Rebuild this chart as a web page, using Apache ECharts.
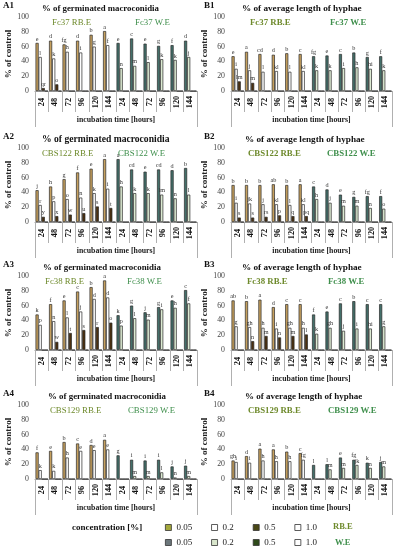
<!DOCTYPE html>
<html><head><meta charset="utf-8">
<script src="https://cdn.jsdelivr.net/npm/echarts@6/dist/echarts.min.js"></script>
<style>html,body{margin:0;padding:0;background:#fff}#c{width:397px;height:550px}</style>
</head><body><div id="c"></div>
<script>
const hours = ['24','48','72','96','120','144','24','48','72','96','120','144'];
const concentrations = ['0.05','0.2','0.5','1.0'];
const ZERO12 = [0,0,0,0,0,0,0,0,0,0,0,0];
const NOL = ['','','','','','','','','','','',''];

// A1 Fc37 germinated macroconidia
const A1_c005 = [65,68,63,68,76,81,65,71,64,61,62,68];
const A1_c02  = [46,44,53,52,60,62,31,34,39,43,42,46];
const A1_c05  = [4,9,0,0,0,0,0,0,0,0,0,0];
const A1_l005 = ['e','d','fg','d','b','a','e','c','e','g','f','d'];
const A1_l02  = ['l','k','h','i','g','f','n','m','l','k','k','j'];
const A1_l05  = ['qr','o','','','','','','','','','',''];
// B1 Fc37 hyphae
const B1_c005 = [47,53,50,49,51,50,47,48,50,52,46,47];
const B1_c02  = [30,28,26,27,26,27,28,28,31,32,30,28];
const B1_c05  = [13,11,0,0,0,0,0,0,0,0,0,0];
const B1_l005 = ['e','a','cd','d','b','c','fg','e','c','b','g','f'];
const B1_l02  = ['i','j','l','kl','l','kl','k','k','i','h','hi','k'];
const B1_l05  = ['lm','m','','','','','','','','','',''];
// A2 CBS122 germinated
const A2_c005 = [43,48,58,67,72,85,85,71,68,71,70,73];
const A2_c02  = [23,28,31,33,39,45,48,39,39,37,32,37];
const A2_c05  = [7,8,10,12,21,19,0,0,0,0,0,0];
const A2_l005 = ['j','h','g','f','e','a','a','cd','e','cd','d','b'];
const A2_l02  = ['r','p','o','n','k','i','h','k','k','lm','n','l'];
const A2_l05  = ['y','x','w','u','s','t','','','','','',''];
// B2 CBS122 hyphae
const B2_c005 = [50,50,50,51,50,51,48,44,37,34,35,35];
const B2_c02  = [26,25,24,24,23,24,31,26,22,22,19,18];
const B2_c05  = [6,6,7,9,8,8,0,0,0,0,0,0];
const B2_l005 = ['b','b','b','ab','b','a','c','d','e','g','fg','f'];
const B2_l02  = ['i','jk','j','kl','l','kl','h','j','m','m','n','o'];
const B2_l05  = ['s','s','rs','p','q','pq','','','','','',''];
// A3 Fc38 germinated
const A3_c005 = [48,62,67,79,85,94,47,60,51,58,67,81];
const A3_c02  = [34,39,44,52,69,71,33,43,41,55,57,63];
const A3_c05  = [0,11,23,27,31,37,0,0,0,0,0,0];
const A3_l005 = ['k','f','e','c','b','a','k','g','j','g','e','c'];
const A3_l02  = ['p','n','l','j','d','d','p','l','m','i','h','f'];
const A3_l05  = ['','w','t','s','r','o','','','','','',''];
// B3 Fc38 hyphae
const B3_c005 = [67,66,68,58,62,62,48,52,63,66,62,62];
const B3_c02  = [32,31,30,29,30,30,22,30,26,29,29,32];
const B3_c05  = [0,12,19,17,19,21,0,0,0,0,0,0];
const B3_l005 = ['ab','b','a','d','c','c','f','e','c','b','c','c'];
const B3_l02  = ['g','gh','h','i','gh','h','k','gh','j','i','hi','g'];
const B3_l05  = ['','n','m','n','m','l','','','','','',''];
// A4 CBS129 germinated
const A4_c005 = [36,38,50,48,46,53,32,26,25,26,17,18];
const A4_c02  = [12,11,29,38,39,40,0,4,4,9,2,4];
const A4_l005 = ['f','e','b','c','d','a','g','i','i','i','j','j'];
const A4_l02  = ['k','k','h','e','e','e','','m','m','l','n','m'];
// B4 CBS129 hyphae
const B4_c005 = [25,31,41,40,37,35,19,20,29,26,22,23];
const B4_c02  = [23,22,25,24,24,26,0,13,15,19,15,17];
const B4_l005 = ['gh','d','a','a','b','c','l','l','e','fg','k','j'];
const B4_l02  = ['i','i','h','h','h','fg','','m','m','jk','n','m'];

const TITLE_A = '% of germinated macroconidia';
const TITLE_B = '% of average length of hyphae';

const panels = [
  {id:'A1', title:TITLE_A, strain:'Fc37',   col:0,row:0, v:[A1_c005,A1_c02,A1_c05,ZERO12], l:[A1_l005,A1_l02,A1_l05,NOL], tl:42, ts:8.8, rb:52, we:135},
  {id:'B1', title:TITLE_B, strain:'Fc37',   col:1,row:0, v:[B1_c005,B1_c02,B1_c05,ZERO12], l:[B1_l005,B1_l02,B1_l05,NOL], tl:242, ts:9.2, rb:250, we:330},
  {id:'A2', title:TITLE_A, strain:'CBS122', col:0,row:1, v:[A2_c005,A2_c02,A2_c05,ZERO12], l:[A2_l005,A2_l02,A2_l05,NOL], tl:42, ts:9.6, rb:42, we:118},
  {id:'B2', title:TITLE_B, strain:'CBS122', col:1,row:1, v:[B2_c005,B2_c02,B2_c05,ZERO12], l:[B2_l005,B2_l02,B2_l05,NOL], tl:245, ts:9.2, rb:248, we:327},
  {id:'A3', title:TITLE_A, strain:'Fc38',   col:0,row:2, v:[A3_c005,A3_c02,A3_c05,ZERO12], l:[A3_l005,A3_l02,A3_l05,NOL], tl:43, ts:8.9, rb:45, we:127},
  {id:'B3', title:TITLE_B, strain:'Fc38',   col:1,row:2, v:[B3_c005,B3_c02,B3_c05,ZERO12], l:[B3_l005,B3_l02,B3_l05,NOL], tl:242, ts:9.2, rb:247, we:328},
  {id:'A4', title:TITLE_A, strain:'CBS129', col:0,row:3, v:[A4_c005,A4_c02,ZERO12,ZERO12], l:[A4_l005,A4_l02,NOL,NOL], tl:48, ts:8.9, rb:50, we:128},
  {id:'B4', title:TITLE_B, strain:'CBS129', col:1,row:3, v:[B4_c005,B4_c02,ZERO12,ZERO12], l:[B4_l005,B4_l02,NOL,NOL], tl:245, ts:9.0, rb:248, we:328}
];

const SERIF = '"Liberation Serif", "Times New Roman", serif';
const colGeom = [{left:35,width:162},{left:231,width:161}];
const rowTop = [17,148,276,405];
const plotH = 74;
const rbColors = ['#C6A05E','#FFFFFF','#4B300F','#FFFFFF'];
const weColors = ['#44706A','#DCEAD2','#2D481B','#FFFFFF'];
const legendRB = ['#A4A83C','#FFFFFF','#4A4816','#FFFFFF'];
const legendWE = ['#6C777B','#D9E6CC','#2E4A1A','#FFFFFF'];
const RB_TXT = '#6E8A2C';
const WE_TXT = '#3F8F4C';

const grid=[], xAxis=[], yAxis=[], series=[], graphic=[];
panels.forEach((p,i)=>{
  const g = colGeom[p.col], top = rowTop[p.row];
  grid.push({left:g.left, width:g.width, top:top, height:plotH, containLabel:false});
  xAxis.push({
    type:'category', gridIndex:i, data:hours, position:'bottom',
    axisLine:{show:true, lineStyle:{color:'#9a9a9a', width:1}},
    axisTick:{show:true, length:21, lineStyle:{color:'#b0b0b0', width:1}},
    axisLabel:{rotate:90, fontFamily:SERIF, fontWeight:'bold', fontSize:8.3, color:'#111', align:'center', verticalAlign:'middle', margin:11, interval:0},
    name:'incubation time [hours]', nameLocation:'middle', nameGap:25,
    nameTextStyle:{fontFamily:SERIF, fontWeight:'bold', fontSize:7.8, color:'#222'}
  });
  xAxis.push({
    type:'category', gridIndex:i, data:[''], position:'bottom',
    axisLine:{show:false}, axisLabel:{show:false},
    axisTick:{show:true, length:36, lineStyle:{color:'#b0b0b0', width:1}}
  });
  yAxis.push({
    type:'value', gridIndex:i, min:0, max:100, interval:20,
    axisLine:{show:false}, axisTick:{show:false}, splitLine:{show:false},
    axisLabel:{fontFamily:SERIF, fontSize:7.8, color:'#444', margin:6},
    name:'% of control', nameLocation:'middle', nameGap:20,
    nameTextStyle:{fontFamily:SERIF, fontWeight:'bold', fontSize:9, color:'#222'}
  });
  concentrations.forEach((c,k)=>{
    const letters = p.l[k];
    series.push({
      type:'bar', name:p.id+' '+c, xAxisIndex:2*i, yAxisIndex:i,
      data:p.v[k], barGap:'0%', barCategoryGap:'8%',
      itemStyle:{
        color:(q)=> q.dataIndex<6 ? rbColors[k] : weColors[k],
        borderColor:'#2a2a2a', borderWidth:0.7
      },
      label:{show:true, position:'top', distance:1, fontFamily:SERIF, fontSize:6.2, color:'#333',
        formatter:(q)=> letters[q.dataIndex] || ''},
      silent:true, animation:false
    });
  });
  const idX = p.col===0 ? 3 : 204;
  graphic.push({type:'text', x:idX, y:top-11, style:{text:p.id, font:'bold 9px '+SERIF, fill:'#111', verticalAlign:'middle'}});
  graphic.push({type:'text', x:p.tl, y:top-8, style:{text:p.title, font:'bold '+p.ts+'px '+SERIF, fill:'#111', verticalAlign:'middle'}});
  const w = p.col===0 ? 'normal' : 'bold';
  graphic.push({type:'text', x:p.rb, y:top+6, style:{text:p.strain+' RB.E', font:w+' 8.8px '+SERIF, fill:RB_TXT, verticalAlign:'middle'}});
  graphic.push({type:'text', x:p.we, y:top+6, style:{text:p.strain+' W.E', font:w+' 8.8px '+SERIF, fill:WE_TXT, verticalAlign:'middle'}});
});

// hidden grid carrying legend-only series
const hid = panels.length;
grid.push({left:-50, top:-50, width:1, height:1, show:false});
xAxis.push({type:'category', gridIndex:hid, show:false, data:['x']});
yAxis.push({type:'value', gridIndex:hid, show:false});
const legR=[], legW=[];
concentrations.forEach((c,k)=>{
  series.push({type:'bar', name:'R'+c, xAxisIndex:2*hid, yAxisIndex:hid, data:[], itemStyle:{color:legendRB[k]}});
  series.push({type:'bar', name:'W'+c, xAxisIndex:2*hid, yAxisIndex:hid, data:[], itemStyle:{color:legendWE[k]}});
  legR.push({name:'R'+c, itemStyle:{color:legendRB[k], borderColor:'#333', borderWidth:0.8}});
  legW.push({name:'W'+c, itemStyle:{color:legendWE[k], borderColor:'#333', borderWidth:0.8}});
});
const legBase = {orient:'horizontal', itemWidth:6, itemHeight:6, itemGap:19, padding:0, icon:'rect',
  selectedMode:false, formatter:(n)=>n.slice(1),
  textStyle:{fontFamily:SERIF, fontSize:9, color:'#222'}};
const legend = [
  Object.assign({}, legBase, {left:165, top:523, data:legR}),
  Object.assign({}, legBase, {left:165, top:538, data:legW})
];
graphic.push({type:'text', x:72, y:528, style:{text:'concentration [%]', font:'bold 9px '+SERIF, fill:'#111', verticalAlign:'middle'}});
graphic.push({type:'text', x:333, y:527, style:{text:'RB.E', font:'bold 8.5px '+SERIF, fill:RB_TXT, verticalAlign:'middle'}});
graphic.push({type:'text', x:335, y:543, style:{text:'W.E', font:'bold 8.5px '+SERIF, fill:WE_TXT, verticalAlign:'middle'}});

const chart = echarts.init(document.getElementById('c'), null, {renderer:'canvas'});
chart.setOption({backgroundColor:'#fff', animation:false, grid, xAxis, yAxis, series, legend, graphic});
</script></body></html>
